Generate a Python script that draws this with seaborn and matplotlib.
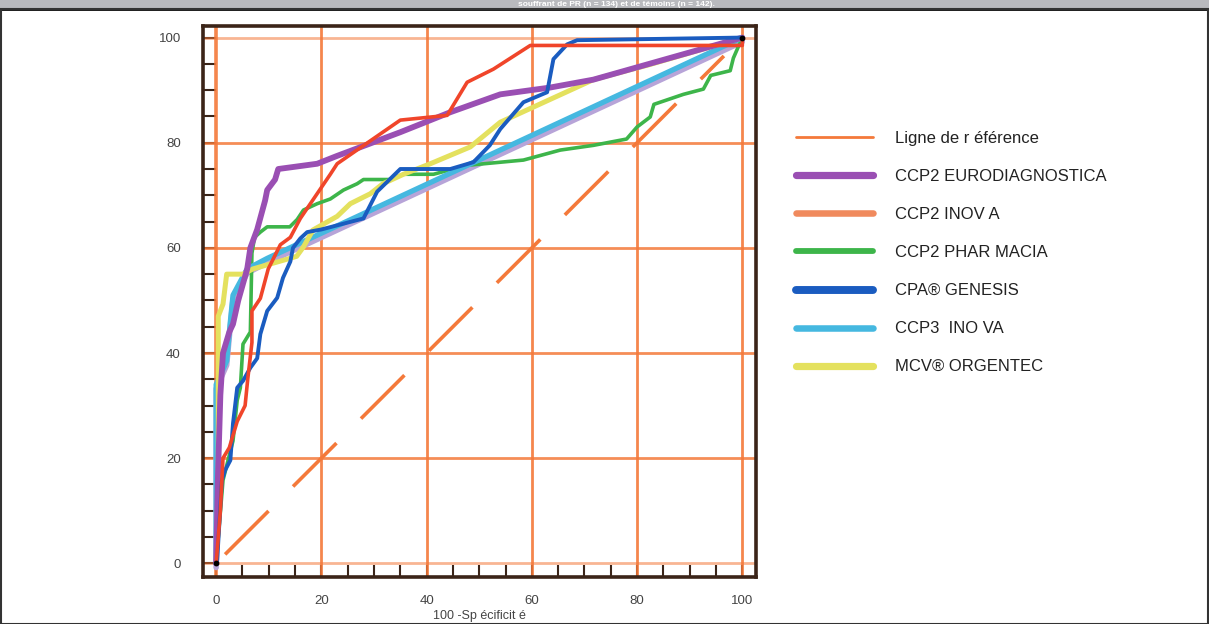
import matplotlib
matplotlib.use("Agg")
import matplotlib.pyplot as plt
import seaborn as sns
import pandas as pd
from matplotlib.patches import Rectangle
from matplotlib.ticker import MultipleLocator

# ROC curves (x = 100 - specificity, y = sensitivity)
ref_x = [1.7, 96.5]
ref_y = [1.7, 96.5]

euro_x = [0, 0.3, 0.8, 1.3, 2.5, 3.2, 4.2, 5.9, 6.5, 7.8, 9.3, 9.7, 11.2, 11.8, 19.2, 23, 35, 44.5, 54, 63.5, 71.7, 100]
euro_y = [0, 15, 32, 40, 44, 45.5, 50, 56, 60, 63.5, 69, 71, 73, 75, 76, 77.5, 82, 85.8, 89.2, 90.5, 92, 100]

inova_x = [0, 0.8, 1.3, 2.5, 4, 5.5, 6, 6.8, 6.8, 8.4, 9.9, 12.2, 14.1, 16, 17.9, 21.7, 23, 35, 43.9, 47.7, 52.7, 59.7, 100, 100]
inova_y = [0, 10, 20, 22, 27, 30, 35, 42, 48, 50.4, 56, 60.6, 62, 65.6, 68.4, 74, 76, 84.3, 85.2, 91.5, 94, 98.5, 98.5, 100]

pharm_x = [0, 1.3, 3.2, 4, 4.6, 5.1, 6.5, 6.8, 7.3, 8.4, 9.7, 14, 15.4, 16.6, 19.2, 21.7, 24.2, 26.8, 28, 33, 35.6,
           41.3, 47.7, 58.4, 65.4, 71.7, 78, 80, 82.5, 83.2, 88.8, 92.6, 94, 97.7, 98.3, 100]
pharm_y = [0, 15.8, 23.3, 31, 33.4, 41.7, 44, 59, 62, 63, 64, 64, 65.4, 67.2, 68.4, 69.3, 71, 72.2, 73, 73, 74,
           74, 75.7, 76.7, 78.6, 79.5, 80.7, 83, 84.9, 87.3, 89.2, 90.2, 92.8, 93.7, 96.1, 100]

genesis_x = [0, 0.2, 1.1, 1.7, 2.7, 3.2, 4, 5.1, 6.5, 7.8, 8.4, 9.7, 11.6, 12.7, 14.1, 14.6, 16, 17.3, 20, 28, 30.6,
             35, 44.5, 48.9, 52, 54, 58.4, 62.9, 64.1, 66.7, 68.6, 100]
genesis_y = [0, 0.7, 15.8, 17.7, 19.6, 26.6, 33.4, 34.7, 37.2, 39, 43.6, 48, 50.5, 54.3, 57.4, 60, 61.8, 63, 63.5, 65.6, 70.7,
             75, 75, 76.3, 79.5, 82.6, 87.7, 89.6, 95.9, 98.7, 99.5, 100]

ccp3_x = [0, 0, 2, 2.7, 3.2, 4.6, 5.9, 9.7, 100]
ccp3_y = [0, 34, 38.5, 46, 51, 53.6, 56, 58, 100]

orgentec_x = [0, 0.4, 0.4, 1.3, 2, 5.1, 7, 14, 15.3, 16.6, 18.4, 23, 25.5, 29.3, 31.7, 35.6, 40.7, 48.3, 54, 71.7, 82.5, 100]
orgentec_y = [0, 17, 47, 49.3, 55, 55, 56, 58, 58.4, 60.2, 63.4, 66, 68.4, 70.3, 72.2, 74, 76, 79.2, 83.9, 92, 94.9, 100]

labels = ["Ligne de r éférence", "CCP2 EURODIAGNOSTICA", "CCP2 INOV A", "CCP2 PHAR MACIA",
          "CPA® GENESIS", "CCP3  INO VA", "MCV® ORGENTEC"]
grid_vals = [0, 20, 40, 60, 80, 100]

sns.set_style("white")
plt.rcParams["font.family"] = ["Liberation Sans", "DejaVu Sans"]

orange = "#f4793a"
brown = "#3b2418"

fig = plt.figure(figsize=(12.09, 6.24), dpi=100)
ax = fig.add_axes([203 / 1209, 47 / 624, 553 / 1209, 551 / 624])

# orange grid
for v in grid_vals:
    ax.axvline(v, color=orange, lw=2.6 if v == 0 else 2.0, alpha=0.9, zorder=1)
    ax.axhline(v, color=orange, lw=2.0, alpha=0.85 if v not in (0, 100) else 0.55, zorder=1)

series = [
    (ccp3_x, [y - 0.8 for y in ccp3_y], "#b7a4d8", 4.0),
    (pharm_x, pharm_y, "#3db54a", 2.6),
    (ccp3_x, ccp3_y, "#45b8e0", 3.8),
    (orgentec_x, orgentec_y, "#e4e15e", 3.6),
    (euro_x, euro_y, "#9a4fb3", 4.2),
    (genesis_x, genesis_y, "#1a5cc0", 2.8),
    (inova_x, inova_y, "#f0452a", 2.6),
]
sns.lineplot(x=ref_x, y=ref_y, ax=ax, color=orange, lw=2.6, sort=False, estimator=None,
             zorder=2).lines[-1].set_dashes((17, 9.6))
for i, (xs, ys, col, lw) in enumerate(series):
    df = pd.DataFrame({"x": xs, "y": ys})
    sns.lineplot(data=df, x="x", y="y", ax=ax, color=col, lw=lw, sort=False,
                 estimator=None, zorder=3 + i)

ax.scatter([0, 100], [0, 100], s=10, color="black", zorder=20)

ax.set_xlim(-2.5, 102.6)
ax.set_ylim(-2.6, 102.2)
ax.xaxis.set_major_locator(MultipleLocator(20))
ax.yaxis.set_major_locator(MultipleLocator(20))
ax.xaxis.set_minor_locator(MultipleLocator(5))
ax.yaxis.set_minor_locator(MultipleLocator(5))
ax.tick_params(which="both", direction="in", length=9, width=1.5, color=brown,
               bottom=True, left=True, top=False, right=False)
ax.tick_params(axis="x", which="major", pad=13, labelsize=9.5, labelcolor="#444444")
ax.tick_params(axis="y", which="major", pad=16, labelsize=9.5, labelcolor="#444444")
for s in ax.spines.values():
    s.set_color(brown)
    s.set_linewidth(2.6)
ax.set_xlabel("100 -Sp écificit é", fontsize=9, color="#444444", labelpad=2)
ax.set_ylabel("")

# legend
leg_handles = [plt.Line2D([], [], color=orange, lw=2)] + [
    plt.Line2D([], [], color=c, lw=w + 1.2) for c, w in
    [("#9a4fb3", 4), ("#f08a5d", 3.5), ("#3db54a", 3), ("#1a5cc0", 4.5), ("#45b8e0", 3.5), ("#e4e15e", 4)]]
fig.legend(leg_handles, labels, loc="upper left", bbox_to_anchor=(788 / 1209, 1 - 123 / 624),
           frameon=False, fontsize=12, handlelength=4.6, handletextpad=1.3, labelspacing=1.38,
           borderpad=0, labelcolor="#222222")

# header bar and outer frame
fig.patches.append(Rectangle((0, 1 - 9 / 624), 1, 9 / 624, transform=fig.transFigure,
                             facecolor="#b9babe", edgecolor="none", zorder=0))
fig.patches.append(Rectangle((0, 1 - 10.5 / 624), 1, 1.5 / 624, transform=fig.transFigure,
                             facecolor="#222222", edgecolor="none", zorder=1))
fig.patches.append(Rectangle((1 / 1209, 0), 1207 / 1209, 1 - 9 / 624, transform=fig.transFigure,
                             facecolor="none", edgecolor="#333333", lw=1.5, zorder=1))
fig.text(616 / 1209, 1 - 4.8 / 624, "souffrant de PR (n = 134) et de témoins (n = 142).",
         ha="center", va="center", fontsize=6, fontweight="bold", color="white")

fig.savefig("out.png", dpi=100)
